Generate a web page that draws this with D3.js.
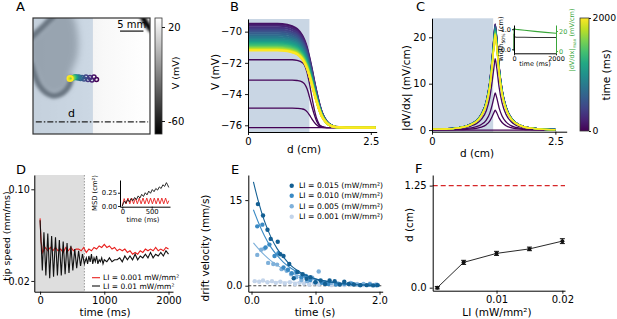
<html>
<head>
<meta charset="utf-8" />
<script src="https://cdnjs.cloudflare.com/ajax/libs/d3/7.6.1/d3.min.js"></script>
<style>
  body { margin: 0; background: #fff; }
  svg { font-family: "DejaVu Sans", sans-serif; }
</style>
</head>
<body>
<svg width="617" height="319"></svg>
<script>
// ---------------- data ----------------
// A: spiral front (mm), tip trajectory
const frontTop = [[4.6,-0.5],[3.3,0.7],[2.0,2.0],[0.7,3.2],[-0.5,4.3]];
const frontBottom = [[-0.5,9.6],[0.3,12.0],[1.3,14.3],[2.7,15.9],[4.3,16.6],[5.8,16.3],[7.0,15.4],[7.8,14.2],[8.1,13.0],[7.9,12.3]];
const frontCorner = [[23.3,-0.5],[24.1,1.0],[25.5,2.8]];
const tailRegion = [[4.6,-1],[2.6,1.3],[1.1,2.8],[-1,4.2],[-1,9.8],[0.6,12.8],[1.9,15.2],[4.1,16.5],[6.2,16.0],[7.5,14.9],[8.1,13.5],[7.9,12.4],[9.5,8],[9.5,3],[8,-1]];
const tipTime = [0,80,160,240,320,400,480,560,640,720,800,880,960,1040,1120,1200,1280,1360,1440,1520,1600,1680,1760,1840,1920,2000];
const tipX = [13.57,13.03,12.61,12.18,11.75,11.32,10.9,10.47,10.15,9.83,9.62,9.4,9.19,9.08,8.97,8.87,8.76,8.65,8.55,8.44,8.33,8.23,8.12,8.06,7.97,7.91];
const tipY = [13.14,12.61,13.25,12.71,13.14,12.61,13.03,12.71,12.93,12.61,12.82,12.61,12.71,12.61,12.71,12.67,12.71,12.71,12.78,12.82,12.82,12.86,12.88,12.91,12.93,12.93];

// B: voltage profiles
const profileD = [0,0.3,0.6,0.8,0.9,1.0,1.1,1.15,1.2,1.25,1.3,1.35,1.4,1.45,1.5,1.6,1.7,1.8,2.0,2.6];
const bandShape = [1,1,1,0.99,0.975,0.95,0.89,0.84,0.77,0.67,0.56,0.44,0.33,0.23,0.15,0.06,0.02,0.006,0,0];
const earlyShape = [1,1,1,1,1,0.99,0.96,0.92,0.82,0.65,0.45,0.27,0.13,0.05,0.02,0,0,0,0,0];
const vRest = -76.15;
const earlyTimes = [0,10,25,50];
const earlyPlateau = [-76.15,-74.9,-73.1,-71.8];
const bandTimes = [100,200,300,400,500,600,700,800,900,1000,1100,1200,1300,1400,1500,1600,1700,1800,1900,2000];
const bandPlateau = [-69.5,-69.62,-69.75,-69.88,-70.0,-70.12,-70.24,-70.35,-70.46,-70.56,-70.65,-70.74,-70.82,-70.9,-70.97,-71.03,-71.08,-71.13,-71.17,-71.2];

// C: gradient profiles
const gradD = [0,0.3,0.5,0.7,0.8,0.9,1.0,1.1,1.17,1.22,1.26,1.28,1.31,1.36,1.42,1.5,1.6,1.7,1.85,2.0,2.2,2.5];
const gradShape = [0.008,0.012,0.02,0.04,0.06,0.09,0.15,0.27,0.45,0.68,0.9,1,0.88,0.6,0.38,0.22,0.12,0.07,0.035,0.02,0.01,0.005];
const earlyPeak = [0,4.3,8.0,15.4];
const bandPeak = [22.9,22.8,22.7,22.6,22.4,22.3,22.1,22.0,21.8,21.7,21.5,21.4,21.3,21.2,21.0,20.9,20.8,20.7,20.6,20.5];
const insetTime = [0,0,30,100,500,1000,1500,2000];
const insetWidth = [0,0.78,0.62,0.6,0.6,0.59,0.59,0.59];
const insetGrad = [0,22.3,21.9,21.6,20.7,19.6,18.6,17.7];

// D: tip speed
const blackT = [0,15,35,60,90,120,150,180,210,240,270,300,330,360,390,420,450,480,510,540,570,600,630,660,690,720,740,760,780,800,820,840,860,880,900,920,940,960,980,1000,1040,1080,1120,1160,1200,1240,1280,1320,1360,1400,1440,1480,1520,1560,1600,1640,1680,1720,1760,1800,1840,1880,1920,1960,2000];
const blackV = [0.058,0.040,0.024,0.047,0.022,0.046,0.021,0.044,0.0215,0.043,0.022,0.041,0.022,0.040,0.0225,0.039,0.023,0.037,0.024,0.035,0.025,0.034,0.026,0.032,0.027,0.030,0.027,0.031,0.028,0.032,0.027,0.030,0.028,0.031,0.027,0.029,0.028,0.030,0.027,0.029,0.028,0.030,0.028,0.029,0.029,0.030,0.028,0.031,0.029,0.031,0.029,0.032,0.029,0.031,0.030,0.032,0.030,0.033,0.030,0.032,0.031,0.033,0.031,0.034,0.032];
const redT = [0,15,40,80,120,160,200,240,280,320,360,400,440,480,520,560,600,640,680,720,760,800,840,880,920,960,1000,1040,1080,1120,1160,1200,1240,1280,1320,1360,1400,1440,1480,1520,1560,1600,1640,1680,1720,1760,1800,1840,1880,1920,1960,2000];
const redV = [0.060,0.040,0.033,0.036,0.034,0.036,0.034,0.036,0.034,0.035,0.033,0.036,0.034,0.036,0.034,0.035,0.035,0.034,0.036,0.033,0.035,0.034,0.036,0.035,0.037,0.036,0.038,0.036,0.037,0.035,0.036,0.034,0.035,0.034,0.035,0.033,0.034,0.032,0.033,0.032,0.034,0.033,0.035,0.034,0.035,0.034,0.036,0.034,0.035,0.034,0.036,0.035];
const msdT = [0,20,40,60,90,120,150,180,210,240,270,300,330,360,390,420,450,480,510,540,570,600,630,660,690,720,750,770,790];
const msdBlack = [0,0.06,0.09,0.05,0.12,0.08,0.14,0.10,0.16,0.12,0.19,0.15,0.22,0.18,0.25,0.21,0.28,0.24,0.31,0.27,0.33,0.30,0.36,0.33,0.40,0.37,0.44,0.40,0.35];
const msdRedT = [0,32,64,96,128,160,192,224,256,288,320,352,384,416,448,480,512,544,576,608,640,672,704,736,768,790];
const msdRed = [0,0.14,0.04,0.15,0.04,0.15,0.04,0.15,0.04,0.15,0.04,0.15,0.04,0.15,0.04,0.15,0.04,0.15,0.04,0.15,0.04,0.15,0.04,0.15,0.04,0.10];

// E: drift velocity
const eLabels = ["LI = 0.015 (mW/mm²)","LI = 0.010 (mW/mm²)","LI = 0.005 (mW/mm²)","LI = 0.001 (mW/mm²)"];
const eColors = ["#135f93","#3a8ac4","#7eb0da","#c3d4ea"];
const eT015 = [0.10,0.18,0.25,0.30,0.41,0.45,0.50,0.59,0.66,0.72,0.80,0.86,0.92,1.0,1.08,1.15,1.22,1.3,1.38,1.45,1.52,1.6,1.7,1.8,1.9,1.97];
const eV015 = [14.3,12.3,9.8,8.2,7.7,5.5,5.2,3.8,1.3,2.4,2.0,1.2,1.5,0.6,0.9,0.3,0.9,0.8,0.2,0.7,0.3,0.2,0.1,0.1,0.05,0.1];
const eT010 = [0.09,0.17,0.22,0.28,0.36,0.42,0.5,0.57,0.63,0.7,0.78,0.85,0.92,1.0,1.1,1.2,1.32,1.45,1.58,1.7,1.85,1.95];
const eV010 = [10.4,10.7,6.7,7.2,5.2,5.7,3.2,2.8,2.2,2.4,1.5,1.7,1.0,0.6,0.5,0.3,0.2,0.4,0.3,0.1,0.2,0.1];
const eT005 = [0.09,0.15,0.2,0.26,0.34,0.4,0.47,0.55,0.62,0.7,0.78,0.87,0.95,1.05,1.15,1.25,1.35,1.45,1.55,1.65,1.75,1.85,1.95];
const eV005 = [5.4,6.3,6.5,4.0,3.8,3.7,2.9,2.6,2.0,1.5,1.0,0.8,1.4,2.5,0.6,0.5,0.4,0.3,0.5,0.2,0.3,0.2,0.1];
const eT001 = [0.05,0.12,0.18,0.25,0.32,0.38,0.45,0.52,0.6,0.68,0.75,0.82,0.9,0.98,1.05,1.15,1.25,1.35,1.45,1.55,1.65,1.75,1.85,1.95];
const eV001 = [0.8,0.7,0.9,0.6,0.8,0.5,0.7,0.4,0.6,0.3,0.5,0.4,0.2,0.4,0.2,0.3,0.1,0.3,0.1,0.2,0.3,0.1,0.4,0.3];
const fitT = [0.03,0.1,0.2,0.3,0.4,0.5,0.6,0.7,0.8,0.9,1.0,1.2,1.4,1.6,1.8,2.0];
const fit015 = [18.2,15.1,11.4,8.6,6.5,5.0,3.7,2.8,2.1,1.6,1.2,0.7,0.4,0.2,0.1,0.05];
const fit010 = [13.3,11.3,8.8,6.8,5.3,4.1,3.2,2.5,1.9,1.5,1.15,0.7,0.4,0.25,0.15,0.1];
const fit005 = [7.5,6.6,5.4,4.4,3.6,2.9,2.4,1.9,1.6,1.3,1.05,0.7,0.45,0.3,0.2,0.13];
const fit001 = [0.8,0.78,0.75,0.72,0.69,0.66,0.63,0.6,0.57,0.54,0.51,0.46,0.42,0.38,0.34,0.3];

// F: distance vs LI
const fLI = [0.001,0.005,0.01,0.015,0.02];
const fD = [0.0,0.31,0.42,0.475,0.57];
const fErr = [0.015,0.025,0.025,0.022,0.03];

// ---------------- drawing ----------------
const svg = d3.select("svg");
const FONT = "DejaVu Sans";
const TICK = 10, LAB = 10.5;
const blueFill = "#c9d6e4";
const green = "#3aa63a";
const red = "#e8201e";
const intFmt = d3.format("d");
const defs = svg.append("defs");

function addAxis(axis, tx, ty, fs) {
  const g = svg.append("g").attr("transform", `translate(${tx},${ty})`).call(axis);
  g.attr("font-family", FONT).attr("font-size", fs);
  g.select(".domain").attr("stroke-width", 1);
  g.selectAll(".tick line").attr("stroke-width", 0.9);
  return g;
}
function label(x, y, txt, fs, rot, anchor) {
  const t = svg.append("text").attr("font-size", fs).attr("text-anchor", anchor || "middle")
    .attr("transform", `translate(${x},${y})` + (rot ? ` rotate(${rot})` : ""));
  t.text(txt);
  return t;
}
function panelLetter(x, y, s) { label(x, y, s, 13, 0, "start"); }

// ---- A ----
const ax = d3.scaleLinear().domain([0, 25]).range([33, 150]);
const ay = d3.scaleLinear().domain([0, 24.8]).range([18, 134]);
defs.append("clipPath").attr("id", "clipA").append("rect")
  .attr("x", 33).attr("y", 18).attr("width", 117).attr("height", 116);
defs.append("filter").attr("id", "blurBig").attr("x", "-50%").attr("y", "-50%").attr("width", "200%").attr("height", "200%")
  .append("feGaussianBlur").attr("stdDeviation", 3.5);
defs.append("filter").attr("id", "blurSmall").attr("x", "-50%").attr("y", "-50%").attr("width", "200%").attr("height", "200%")
  .append("feGaussianBlur").attr("stdDeviation", 1.4);
const bgGrad = defs.append("linearGradient").attr("id", "bgA");
bgGrad.append("stop").attr("offset", "0").attr("stop-color", "#e2e2e2");
bgGrad.append("stop").attr("offset", "0.6").attr("stop-color", "#f8f8f8");
bgGrad.append("stop").attr("offset", "1").attr("stop-color", "#ffffff");

const gA = svg.append("g").attr("clip-path", "url(#clipA)");
gA.append("rect").attr("x", 33).attr("y", 18).attr("width", 117).attr("height", 116).attr("fill", "url(#bgA)");
const lineA = d3.line().x(d => ax(d[0])).y(d => ay(d[1])).curve(d3.curveCatmullRom);
gA.append("path").attr("d", d3.line().x(d => ax(d[0])).y(d => ay(d[1])).curve(d3.curveCatmullRomClosed)(tailRegion))
  .attr("fill", "#5e5e5e").attr("opacity", 0.85).attr("filter", "url(#blurBig)");
[frontTop, frontBottom, frontCorner].forEach(f => {
  gA.append("path").attr("d", lineA(f)).attr("fill", "none").attr("stroke", "#050505")
    .attr("stroke-width", 5.5).attr("filter", "url(#blurSmall)");
});
gA.append("rect").attr("x", ax(0)).attr("y", 18).attr("width", ax(12.8) - ax(0)).attr("height", 116)
  .attr("fill", "#b0c4d8").attr("opacity", 0.6);
// dash-dot d line
gA.append("line").attr("x1", ax(0.6)).attr("x2", ax(24.6)).attr("y1", ay(22.2)).attr("y2", ay(22.2))
  .attr("stroke", "#222").attr("stroke-width", 1.2).attr("stroke-dasharray", "6,2,1.5,2");
label(ax(8.2), ay(21.1), "d", 11);
// scale bar
gA.append("line").attr("x1", ax(18.6)).attr("x2", ax(23.6)).attr("y1", ay(2.8)).attr("y2", ay(2.8))
  .attr("stroke", "#111").attr("stroke-width", 1.2);
label(ax(21.1), ay(2.2), "5 mm", 10);
// tip trajectory
gA.selectAll("circle.tip").data(tipTime).enter().append("circle")
  .attr("cx", (d, i) => ax(tipX[i])).attr("cy", (d, i) => ay(tipY[i]))
  .attr("r", (d, i) => i === tipTime.length - 1 ? 2.8 : 2)
  .attr("fill", "none").attr("stroke", d => d3.interpolateViridis(d / 2000)).attr("stroke-width", 1.5);
svg.append("rect").attr("x", 33).attr("y", 18).attr("width", 117).attr("height", 116)
  .attr("fill", "none").attr("stroke", "#333").attr("stroke-width", 1.2);
// grayscale colorbar
const cbA = d3.scaleLinear().domain([-60, 20]).range([121, 27]);
const gGray = defs.append("linearGradient").attr("id", "grayCb").attr("x1", 0).attr("y1", 1).attr("x2", 0).attr("y2", 0);
gGray.append("stop").attr("offset", 0).attr("stop-color", "#000");
gGray.append("stop").attr("offset", 1).attr("stop-color", "#fff");
svg.append("rect").attr("x", 155).attr("y", 18).attr("width", 7).attr("height", 116)
  .attr("fill", "url(#grayCb)").attr("stroke", "#333").attr("stroke-width", 0.8);
const cbAaxis = addAxis(d3.axisRight(cbA).tickValues([20, -60]).tickFormat(d => d < 0 ? "-" + Math.abs(d) : d).tickSize(3).tickSizeOuter(0), 162, 0, TICK);
cbAaxis.select(".domain").remove();
label(179, 73, "V (mV)", 9.5, -90);
panelLetter(16, 11, "A");

// ---- B ----
const bx = d3.scaleLinear().domain([0, 2.62]).range([248, 376.7]);
const by = d3.scaleLinear().domain([-76.43, -69.19]).range([132, 19]);
svg.append("rect").attr("x", bx(0)).attr("y", 19).attr("width", bx(1.25) - bx(0)).attr("height", 113).attr("fill", blueFill);
const lineB = d3.line().x(d => bx(d[0])).y(d => by(d[1])).curve(d3.curveMonotoneX);
earlyTimes.forEach((t, i) => {
  const pts = profileD.map((d, k) => [d, vRest + (earlyPlateau[i] - vRest) * earlyShape[k]]);
  svg.append("path").attr("d", lineB(pts)).attr("fill", "none")
    .attr("stroke", d3.interpolateViridis(t / 2000)).attr("stroke-width", 1.3);
});
bandTimes.forEach((t, i) => {
  const pts = profileD.map((d, k) => [d, vRest + (bandPlateau[i] - vRest) * bandShape[k]]);
  svg.append("path").attr("d", lineB(pts)).attr("fill", "none")
    .attr("stroke", d3.interpolateViridis(t / 2000)).attr("stroke-width", 2.3);
});
addAxis(d3.axisBottom(bx).tickValues([0, 2.5]).tickFormat(d3.format("")).tickSize(3).tickSizeOuter(0), 0, 132, TICK);
addAxis(d3.axisLeft(by).tickValues([-70, -72, -74, -76]).tickSize(3).tickSizeOuter(0), 248, 0, TICK);
label(219, 72, "V (mV)", LAB, -90);
label(304, 153, "d (cm)", LAB);
panelLetter(230, 11, "B");

// ---- C ----
const cx = d3.scaleLinear().domain([0, 2.73]).range([432, 566.7]);
const cy = d3.scaleLinear().domain([-0.35, 24.1]).range([131.7, 18.3]);
svg.append("rect").attr("x", cx(0)).attr("y", 18.3).attr("width", cx(1.24) - cx(0)).attr("height", 113.4).attr("fill", blueFill);
const lineC = d3.line().x(d => cx(d[0])).y(d => cy(d[1])).curve(d3.curveMonotoneX);
earlyTimes.forEach((t, i) => {
  const pts = gradD.map((d, k) => [d, earlyPeak[i] * gradShape[k]]);
  svg.append("path").attr("d", lineC(pts)).attr("fill", "none")
    .attr("stroke", d3.interpolateViridis(t / 2000)).attr("stroke-width", 1.3);
});
bandTimes.forEach((t, i) => {
  const pts = gradD.map((d, k) => [d, bandPeak[i] * gradShape[k]]);
  svg.append("path").attr("d", lineC(pts)).attr("fill", "none")
    .attr("stroke", d3.interpolateViridis(t / 2000)).attr("stroke-width", 1.4);
});
addAxis(d3.axisBottom(cx).tickValues([0, 2.5]).tickFormat(d3.format("")).tickSize(3).tickSizeOuter(0), 0, 131.7, TICK);
addAxis(d3.axisLeft(cy).tickValues([0, 10, 20]).tickSize(3).tickSizeOuter(0), 432, 0, TICK);
label(410, 88, "|dV/dx| (mV/cm)", LAB, -90);
label(477, 157, "d (cm)", LAB);
panelLetter(416, 11, "C");
// inset
const ix = d3.scaleLinear().domain([0, 2000]).range([514, 556]);
const iyL = d3.scaleLinear().domain([-0.2, 1.21]).range([53.3, 25]);
const iyR = d3.scaleLinear().domain([-2.3, 26]).range([53.3, 25]);
svg.append("path").attr("d", d3.line().x((d, i) => ix(insetTime[i])).y(d => iyL(d))(insetWidth))
  .attr("fill", "none").attr("stroke", "#333").attr("stroke-width", 1.1);
svg.append("path").attr("d", d3.line().x((d, i) => ix(insetTime[i])).y(d => iyR(d))(insetGrad))
  .attr("fill", "none").attr("stroke", green).attr("stroke-width", 1.1);
addAxis(d3.axisBottom(ix).tickValues([0, 2000]).tickFormat(intFmt).tickSize(2).tickPadding(1).tickSizeOuter(0), 0, 53.3, 6.5);
addAxis(d3.axisLeft(iyL).tickValues([0, 1]).tickSize(2).tickPadding(1).tickSizeOuter(0), 514, 0, 6.5);
addAxis(d3.axisRight(iyR).tickValues([0, 20]).tickSize(2).tickPadding(1).tickSizeOuter(0), 556, 0, 6.5).attr("color", green);
const wl = svg.append("text").attr("font-size", 6.5).attr("text-anchor", "middle").attr("transform", "translate(503,39) rotate(-90)");
wl.append("tspan").text("width");
wl.append("tspan").attr("font-size", 4.5).attr("dy", 1.5).text("50%");
wl.append("tspan").attr("dy", -1.5).text(" (cm)");
const gl = svg.append("text").attr("font-size", 6.5).attr("text-anchor", "middle").attr("fill", green).attr("transform", "translate(574,40) rotate(-90)");
gl.append("tspan").text("|dV/dx|");
gl.append("tspan").attr("font-size", 4.5).attr("dy", 1.5).text("max");
gl.append("tspan").attr("dy", -1.5).text(" (mV/cm)");
label(535, 66, "time (ms)", 6.5);
// viridis colorbar
const vg = defs.append("linearGradient").attr("id", "virCb").attr("x1", 0).attr("y1", 1).attr("x2", 0).attr("y2", 0);
d3.range(0, 1.01, 0.1).forEach(o => vg.append("stop").attr("offset", o).attr("stop-color", d3.interpolateViridis(o)));
svg.append("rect").attr("x", 580).attr("y", 18).attr("width", 9).attr("height", 113)
  .attr("fill", "url(#virCb)").attr("stroke", "#333").attr("stroke-width", 0.8);
const cbC = d3.scaleLinear().domain([0, 2000]).range([131, 18]);
addAxis(d3.axisRight(cbC).tickValues([0, 2000]).tickFormat(intFmt).tickSize(2).tickPadding(1.5).tickSizeOuter(0), 589, 0, 9.3).select(".domain").remove();
label(610, 75, "time (ms)", LAB, -90);

// ---- D ----
const dx = d3.scaleLinear().domain([-90, 2070]).range([34.3, 173]);
const dy = d3.scaleLog().domain([0.01656, 0.1285]).range([291.7, 175]);
svg.append("rect").attr("x", dx(-90)).attr("y", 175).attr("width", dx(690) - dx(-90)).attr("height", 116.7).attr("fill", "#dedede");
svg.append("line").attr("x1", dx(690)).attr("x2", dx(690)).attr("y1", 175).attr("y2", 291.7)
  .attr("stroke", "#999").attr("stroke-width", 1).attr("stroke-dasharray", "1.5,1.5");
const lineD = d3.line().x(d => dx(d[0])).y(d => dy(d[1]));
svg.append("path").attr("d", lineD(redT.map((t, i) => [t, redV[i]]))).attr("fill", "none").attr("stroke", red).attr("stroke-width", 1.1);
svg.append("path").attr("d", lineD(blackT.map((t, i) => [t, blackV[i]]))).attr("fill", "none").attr("stroke", "#111").attr("stroke-width", 1.1);
addAxis(d3.axisBottom(dx).tickValues([0, 1000, 2000]).tickFormat(intFmt).tickSize(3).tickPadding(2).tickSizeOuter(0), 0, 291.7, TICK);
addAxis(d3.axisLeft(dy).tickValues([0.02, 0.1]).tickFormat(d3.format(".2f")).tickSize(3).tickPadding(1.5).tickSizeOuter(0), 34.3, 0, 9.6);
label(10, 236, "tip speed (mm/ms)", 9.4, -90);
label(105, 316, "time (ms)", LAB);
panelLetter(16, 174, "D");
// legend
[[red, "LI = 0.001 mW/mm²", 277.7], ["#111", "LI = 0.01 mW/mm²", 286]].forEach(l => {
  svg.append("line").attr("x1", 92).attr("x2", 100).attr("y1", l[2]).attr("y2", l[2]).attr("stroke", l[0]).attr("stroke-width", 1.1);
  label(103, l[2] + 2.6, l[1], 7.5, 0, "start");
});
// inset MSD
const mx = d3.scaleLinear().domain([-39, 811]).range([120, 170]);
const my = d3.scaleLinear().domain([-0.013, 0.49]).range([206.7, 180]);
const lineM = d3.line().x(d => mx(d[0])).y(d => my(d[1]));
svg.append("path").attr("d", lineM(msdRedT.map((t, i) => [t, msdRed[i]]))).attr("fill", "none").attr("stroke", red).attr("stroke-width", 0.9);
svg.append("path").attr("d", lineM(msdT.map((t, i) => [t, msdBlack[i]]))).attr("fill", "none").attr("stroke", "#111").attr("stroke-width", 0.9);
addAxis(d3.axisBottom(mx).tickValues([0, 500]).tickSize(2).tickPadding(0.5).tickSizeOuter(0), 0, 206.7, 6.8);
addAxis(d3.axisLeft(my).tickValues([0, 0.25]).tickFormat(d3.format(".2f")).tickSize(2).tickPadding(1).tickSizeOuter(0), 120, 0, 6.8);
label(97, 193, "MSD (cm²)", 6.8, -90);
label(143, 222, "time (ms)", 6.8);

// ---- E ----
const ex = d3.scaleLinear().domain([-0.05, 2.05]).range([248.3, 382.7]);
const ey = d3.scaleLinear().domain([-1.05, 19.4]).range([291.7, 175]);
svg.append("line").attr("x1", ex(-0.05)).attr("x2", ex(2.05)).attr("y1", ey(0)).attr("y2", ey(0))
  .attr("stroke", "#444").attr("stroke-width", 1.1).attr("stroke-dasharray", "3,2");
const eSeries = [[eT015, eV015, fit015], [eT010, eV010, fit010], [eT005, eV005, fit005], [eT001, eV001, fit001]];
const lineE = d3.line().x(d => ex(d[0])).y(d => ey(d[1])).curve(d3.curveMonotoneX);
for (let s = 3; s >= 0; s--) {
  const [ts, vs, fit] = eSeries[s];
  svg.append("g").selectAll("circle").data(ts).enter().append("circle")
    .attr("cx", d => ex(d)).attr("cy", (d, i) => ey(vs[i])).attr("r", 2.2).attr("fill", eColors[s]);
  svg.append("path").attr("d", lineE(fitT.map((t, i) => [t, fit[i]]))).attr("fill", "none")
    .attr("stroke", eColors[s]).attr("stroke-width", 1.1);
}
addAxis(d3.axisBottom(ex).tickValues([0, 1, 2]).tickSize(3).tickPadding(2).tickSizeOuter(0), 0, 291.7, TICK);
addAxis(d3.axisLeft(ey).tickValues([0, 15]).tickFormat(d => d === 0 ? "0.0" : d).tickSize(3).tickSizeOuter(0), 248.3, 0, TICK);
label(209, 248, "drift velocity (mm/s)", LAB, -90);
label(315, 316, "time (s)", LAB);
panelLetter(231, 174, "E");
eLabels.forEach((l, i) => {
  const yy = [185.7, 195.7, 206.2, 216.7][i];
  svg.append("circle").attr("cx", 291.7).attr("cy", yy).attr("r", 2.2).attr("fill", eColors[i]);
  label(299, yy + 2.7, l, 7.7, 0, "start");
});

// ---- F ----
const fx = d3.scaleLinear().domain([0.0003, 0.0204]).range([432.7, 565]);
const fy = d3.scaleLinear().domain([-0.037, 1.38]).range([290.7, 175]);
svg.append("line").attr("x1", fx(0.0003)).attr("x2", fx(0.0204)).attr("y1", fy(1.25)).attr("y2", fy(1.25))
  .attr("stroke", "#d62728").attr("stroke-width", 1.3).attr("stroke-dasharray", "5,3");
svg.append("path").attr("d", d3.line().x((d, i) => fx(fLI[i])).y(d => fy(d))(fD))
  .attr("fill", "none").attr("stroke", "#111").attr("stroke-width", 0.9);
const eb = svg.append("g").selectAll("g").data(fLI).enter().append("g");
eb.append("line").attr("x1", d => fx(d)).attr("x2", d => fx(d))
  .attr("y1", (d, i) => fy(fD[i] - fErr[i])).attr("y2", (d, i) => fy(fD[i] + fErr[i])).attr("stroke", "#111").attr("stroke-width", 1);
[-1, 1].forEach(sg => eb.append("line").attr("x1", d => fx(d) - 2.5).attr("x2", d => fx(d) + 2.5)
  .attr("y1", (d, i) => fy(fD[i] + sg * fErr[i])).attr("y2", (d, i) => fy(fD[i] + sg * fErr[i])).attr("stroke", "#111").attr("stroke-width", 1));
eb.append("circle").attr("cx", d => fx(d)).attr("cy", (d, i) => fy(fD[i])).attr("r", 2).attr("fill", "#111");
addAxis(d3.axisBottom(fx).tickValues([0.01, 0.02]).tickFormat(d3.format("")).tickSize(3).tickPadding(2).tickSizeOuter(0), 0, 290.7, TICK);
addAxis(d3.axisLeft(fy).tickValues([0, 1.25]).tickFormat(d => d === 0 ? "0.0" : "1.25").tickSize(3).tickSizeOuter(0), 432.7, 0, TICK);
label(413, 225, "d (cm)", LAB, -90);
label(497, 316, "LI  (mW/mm²)", LAB);
panelLetter(415, 173, "F");
</script>
</body>
</html>
